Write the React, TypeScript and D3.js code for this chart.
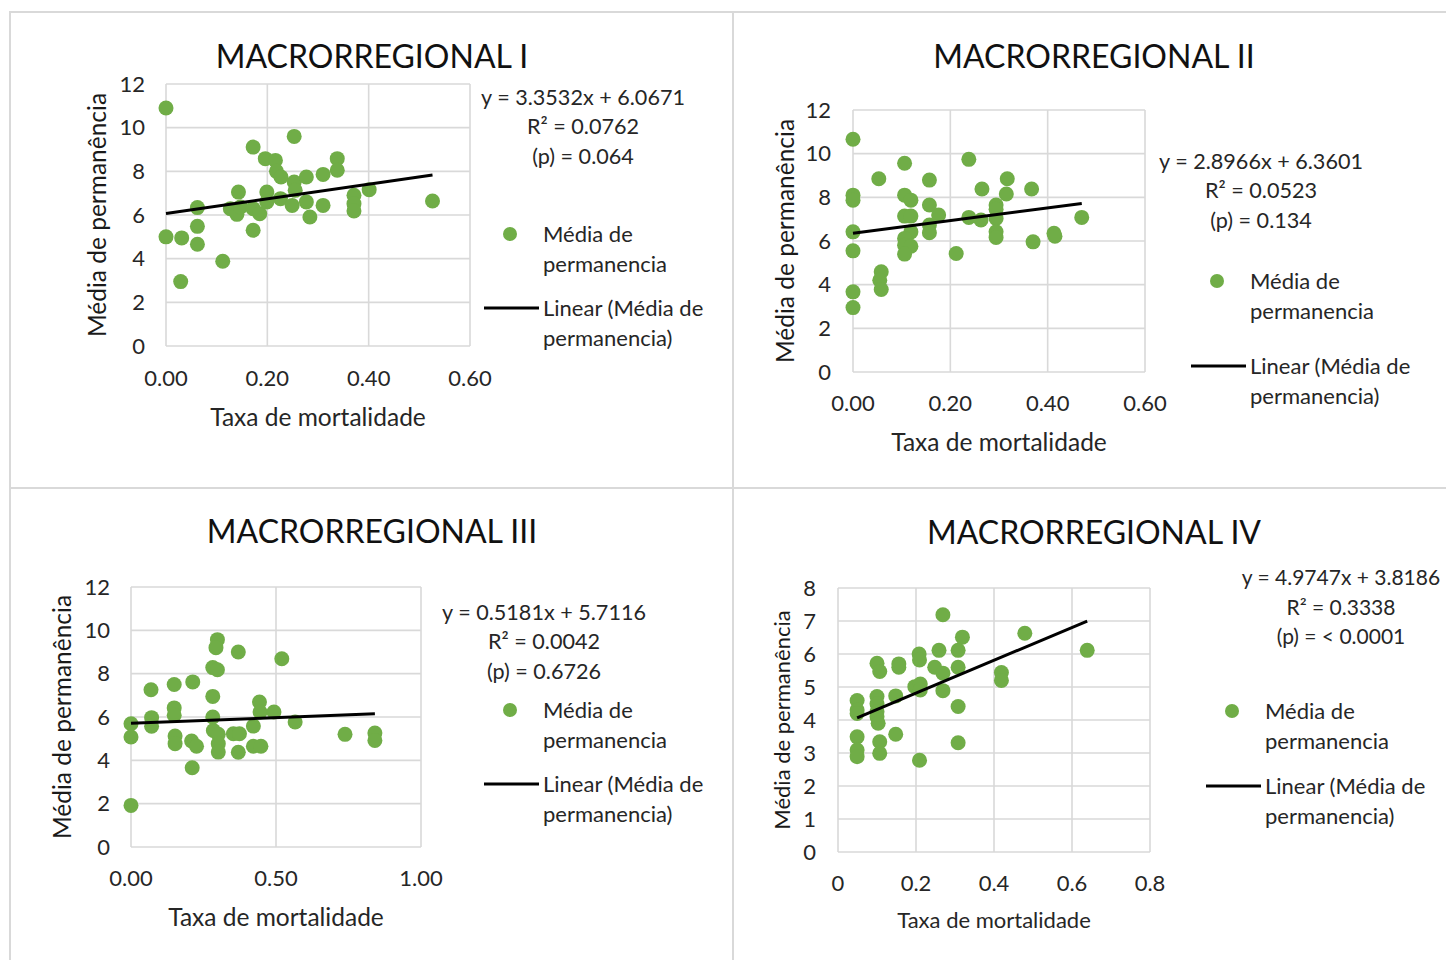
import React from 'react'
import * as d3 from 'd3'

// scatter data (x = taxa de mortalidade, y = média de permanência)
const mr1Taxa = [0, 0, 0.031, 0.029, 0.062, 0.062, 0.062, 0.112, 0.143, 0.127, 0.14, 0.147, 0.172, 0.172, 0.172, 0.185, 0.196, 0.199, 0.199, 0.216, 0.218, 0.227, 0.226, 0.249, 0.253, 0.253, 0.255, 0.277, 0.277, 0.284, 0.31, 0.31, 0.338, 0.338, 0.371, 0.371, 0.371, 0.401, 0.526]
const mr1Media = [10.9, 5.0, 4.95, 2.95, 6.34, 5.48, 4.66, 3.88, 7.05, 6.29, 6.03, 6.37, 9.11, 5.3, 6.29, 6.06, 8.58, 7.05, 6.6, 8.5, 8.0, 7.74, 6.75, 6.44, 9.6, 7.51, 7.13, 7.74, 6.6, 5.91, 7.86, 6.44, 8.58, 8.05, 6.9, 6.52, 6.18, 7.16, 6.64]

const mr2Taxa = [0, 0, 0, 0, 0, 0, 0, 0.053, 0.058, 0.055, 0.058, 0.106, 0.106, 0.119, 0.106, 0.119, 0.119, 0.106, 0.106, 0.119, 0.106, 0.157, 0.157, 0.157, 0.157, 0.176, 0.212, 0.238, 0.238, 0.263, 0.265, 0.294, 0.294, 0.294, 0.294, 0.294, 0.317, 0.315, 0.367, 0.37, 0.413, 0.415, 0.47]
const mr2Media = [10.66, 8.1, 7.87, 6.42, 5.55, 3.67, 2.95, 8.85, 4.59, 4.2, 3.78, 9.56, 8.1, 7.87, 7.14, 7.14, 6.42, 6.12, 5.81, 5.76, 5.4, 8.79, 7.65, 6.73, 6.38, 7.19, 5.43, 9.74, 7.08, 6.96, 8.38, 7.65, 7.45, 7.03, 6.42, 6.16, 8.85, 8.15, 8.38, 5.96, 6.35, 6.22, 7.08]

const mr3Taxa = [0, 0, 0, 0.069, 0.071, 0.071, 0.149, 0.149, 0.149, 0.152, 0.152, 0.213, 0.209, 0.226, 0.211, 0.282, 0.282, 0.282, 0.298, 0.298, 0.293, 0.284, 0.301, 0.301, 0.301, 0.37, 0.353, 0.374, 0.37, 0.422, 0.443, 0.445, 0.422, 0.448, 0.493, 0.52, 0.566, 0.738, 0.841, 0.841]
const mr3Media = [5.69, 5.08, 1.92, 7.26, 5.97, 5.57, 7.5, 6.42, 6.08, 5.12, 4.77, 7.62, 4.89, 4.65, 3.66, 6.95, 6.0, 8.28, 8.18, 9.57, 9.2, 5.38, 5.2, 4.77, 4.38, 9.0, 5.23, 5.23, 4.37, 5.58, 6.69, 6.23, 4.65, 4.65, 6.23, 8.69, 5.77, 5.2, 5.26, 4.92]

const mr4Taxa = [0.049, 0.049, 0.049, 0.049, 0.049, 0.049, 0.1, 0.107, 0.1, 0.1, 0.1, 0.1, 0.103, 0.107, 0.107, 0.156, 0.156, 0.148, 0.148, 0.208, 0.209, 0.197, 0.211, 0.211, 0.209, 0.248, 0.259, 0.269, 0.269, 0.269, 0.308, 0.319, 0.308, 0.308, 0.308, 0.419, 0.419, 0.479, 0.639]
const mr4Media = [4.59, 4.3, 4.2, 3.49, 3.09, 2.89, 5.72, 5.47, 4.71, 4.49, 4.25, 4.1, 3.9, 3.34, 2.99, 5.7, 5.6, 4.73, 3.57, 6.0, 5.82, 5.01, 5.09, 4.91, 2.78, 5.6, 6.11, 7.19, 5.42, 4.89, 6.11, 6.51, 5.6, 4.41, 3.31, 5.44, 5.2, 6.63, 6.11]

const titles = ['MACRORREGIONAL I', 'MACRORREGIONAL II', 'MACRORREGIONAL III', 'MACRORREGIONAL IV']
const slopes = [3.3532, 2.8966, 0.5181, 4.9747]
const intercepts = [6.0671, 6.3601, 5.7116, 3.8186]
const eqLabels = ['y = 3.3532x + 6.0671', 'y = 2.8966x + 6.3601', 'y = 0.5181x + 5.7116', 'y = 4.9747x + 3.8186']
const r2Labels = ['R² = 0.0762', 'R² = 0.0523', 'R² = 0.0042', 'R² = 0.3338']
const pLabels = ['(p)  = 0.064', '(p)  = 0.134', '(p)  = 0.6726', '(p)  = < 0.0001']
const xMax = [0.6, 0.6, 1.0, 0.8]
const yMax = [12, 12, 12, 8]
const xTickStep = [0.2, 0.2, 0.5, 0.2]
const yTickStep = [2, 2, 2, 1]
const xTickDigits = [2, 2, 2, -1]
const legendLabels = ['Média de', 'permanencia', 'Linear (Média de', 'permanencia)']
const xTitle = 'Taxa de mortalidade'
const yTitle = 'Média de permanência'

const series = [
  { taxa: mr1Taxa, media: mr1Media },
  { taxa: mr2Taxa, media: mr2Media },
  { taxa: mr3Taxa, media: mr3Media },
  { taxa: mr4Taxa, media: mr4Media }
]

// where each panel sits on the page
const layouts = [
  { box: [10, 12, 723, 476], plot: [166, 84, 470, 346], titleX: 372, titleY: 57, yTickX: 145, xTickY: 378, xTitleY: 417, yTitleX: 97, eqX: 583, eqY: 97, legX: 484, legY: 234, lineGap: 74, axisFont: 24.5 },
  { box: [733, 12, 720, 476], plot: [853, 110, 1145, 372], titleX: 1094, titleY: 57, yTickX: 831, xTickY: 403, xTitleY: 442, yTitleX: 785, eqX: 1261, eqY: 161, legX: 1191, legY: 281, lineGap: 85, axisFont: 24.5 },
  { box: [10, 488, 723, 480], plot: [131, 587, 421, 847], titleX: 372, titleY: 532, yTickX: 110, xTickY: 878, xTitleY: 917, yTitleX: 62, eqX: 544, eqY: 612, legX: 484, legY: 710, lineGap: 74, axisFont: 24.5 },
  { box: [733, 488, 720, 480], plot: [838, 588, 1150, 852], titleX: 1094, titleY: 533, yTickX: 816, xTickY: 883, xTitleY: 920, yTitleX: 782, eqX: 1341, eqY: 578, legX: 1206, legY: 711, lineGap: 75, axisFont: 22 }
]

const FONT = 'Lato, "Open Sans", sans-serif'
const GREEN = '#70ad47'
const GRID = '#d9d9d9'
const INK = '#262626'

function Panel({ i }: { i: number }) {
  const L = layouts[i]
  const [x0, y0, x1, y1] = L.plot
  const x = d3.scaleLinear().domain([0, xMax[i]]).range([x0, x1])
  const y = d3.scaleLinear().domain([0, yMax[i]]).range([y1, y0])
  const xt = d3.range(0, xMax[i] + 1e-9, xTickStep[i])
  const yt = d3.range(0, yMax[i] + 1e-9, yTickStep[i])
  const s = series[i]
  const pts = s.taxa.map((t, k) => [t, s.media[k]])
  const xs = d3.extent(s.taxa) as [number, number]
  const line = d3
    .line<number>()
    .x(d => x(d))
    .y(d => y(slopes[i] * d + intercepts[i]))
  const fmt = xTickDigits[i] < 0 ? (v: number) => d3.format('~g')(+v.toFixed(2)) : d3.format('.' + xTickDigits[i] + 'f')
  const cy = (y0 + y1) / 2
  const lg = L.legY

  return (
    <g>
      <rect x={L.box[0]} y={L.box[1]} width={L.box[2]} height={L.box[3]} fill="#fff" stroke={GRID} strokeWidth={2} />
      <text x={L.titleX} y={L.titleY} dy="0.35em" textAnchor="middle" fontSize={32} fill="#111">
        {titles[i]}
      </text>
      {yt.map(v => (
        <line key={'gy' + v} x1={x0} x2={x1} y1={y(v)} y2={y(v)} stroke={GRID} strokeWidth={1.6} />
      ))}
      {xt.map(v => (
        <line key={'gx' + v} x1={x(v)} x2={x(v)} y1={y0} y2={y1} stroke={GRID} strokeWidth={1.6} />
      ))}
      {yt.map(v => (
        <text key={'ty' + v} x={L.yTickX} y={y(v)} dy="0.35em" textAnchor="end" fontSize={22} fill={INK}>
          {v}
        </text>
      ))}
      {xt.map(v => (
        <text key={'tx' + v} x={x(v)} y={L.xTickY} dy="0.35em" textAnchor="middle" fontSize={22} fill={INK}>
          {fmt(v)}
        </text>
      ))}
      <text x={(x0 + x1) / 2} y={L.xTitleY} dy="0.35em" textAnchor="middle" fontSize={L.axisFont} fill={INK}>
        {xTitle}
      </text>
      <text
        transform={`translate(${L.yTitleX},${cy}) rotate(-90)`}
        dy="0.35em"
        textAnchor="middle"
        fontSize={L.axisFont}
        fill="#1a1a1a"
      >
        {yTitle}
      </text>
      {pts.map((p, k) => (
        <circle key={k} cx={x(p[0])} cy={y(p[1])} r={7.5} fill={GREEN} />
      ))}
      <path d={line(xs) || ''} stroke="#000" strokeWidth={3} fill="none" />
      <g fontSize={i === 3 ? 21 : 21.6} fill={INK} textAnchor="middle">
        <text x={L.eqX} y={L.eqY} dy="0.35em">{eqLabels[i]}</text>
        <text x={L.eqX} y={L.eqY + 29.5} dy="0.35em">{r2Labels[i]}</text>
        <text x={L.eqX} y={L.eqY + 59} dy="0.35em">{pLabels[i]}</text>
      </g>
      <circle cx={L.legX + 26} cy={lg} r={7} fill={GREEN} />
      <line x1={L.legX} x2={L.legX + 55} y1={lg + L.lineGap} y2={lg + L.lineGap} stroke="#000" strokeWidth={3} />
      <g fontSize={22} fill={INK}>
        <text x={L.legX + 59} y={lg} dy="0.35em">{legendLabels[0]}</text>
        <text x={L.legX + 59} y={lg + 30} dy="0.35em">{legendLabels[1]}</text>
        <text x={L.legX + 59} y={lg + L.lineGap} dy="0.35em">{legendLabels[2]}</text>
        <text x={L.legX + 59} y={lg + L.lineGap + 30} dy="0.35em">{legendLabels[3]}</text>
      </g>
    </g>
  )
}

export default function App() {
  return (
    <svg
      width={1446}
      height={960}
      style={{ position: 'absolute', left: 0, top: 0, background: '#fff' }}
      fontFamily={FONT}
    >
      <rect width={1446} height={960} fill="#fff" />
      {[0, 1, 2, 3].map(i => (
        <Panel key={i} i={i} />
      ))}
    </svg>
  )
}
